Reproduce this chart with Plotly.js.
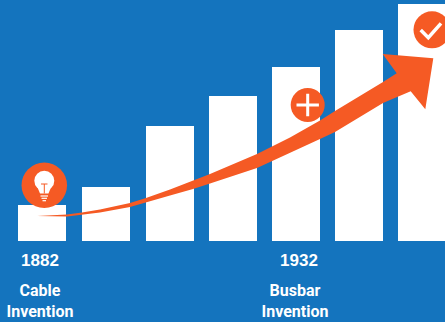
<!DOCTYPE html>
<html>
<head>
<meta charset="utf-8">
<script src="https://cdn.plot.ly/plotly-3.0.1.min.js"></script>
<style>html,body{margin:0;padding:0;background:#1474be;overflow:hidden}</style>
</head>
<body>
<div id="chart" style="width:445px;height:322px"></div>
<script>
// Column positions and heights above the baseline
const barCenters = [42, 106, 170, 233, 296, 359, 422];
const barHeights = [36, 54, 115, 145, 174, 211, 237];

// Milestone labels
const yearX = [40, 299];
const yearY = [-21, -21];
const yearText = ['1882', '1932'];
const noteX = [40, 295, 40, 295];
const noteY = [-51, -51, -72, -72];
const noteText = ['Cable', 'Busbar', 'Invention', 'Invention'];

// Growth arrow outline: upper edge, head, lower edge
const arrowX = [37, 67, 82, 100, 130, 146, 170, 193, 210, 257, 273, 290, 320, 335, 383, 396.7,
                382.7, 433.3, 425.3, 410.7,
                383, 335, 320, 290, 273, 257, 210, 193, 170, 150, 130, 100, 82, 67, 37];
const arrowY = [25, 26.5, 28.5, 31.5, 38, 43, 51.5, 60, 67, 87, 95, 103.5, 120.5, 130, 159, 167.7,
                187, 182.7, 131.7, 149.7,
                138, 109, 102, 88, 80, 73, 57.5, 52, 45.5, 39.5, 34, 28.5, 26, 24.5, 25];

// Badges on the columns
const badgeX = [44.3, 307.7, 432];
const badgeY = [55.7, 136, 211.2];
const badgeSize = [45.5, 34, 37];

// Plus sign
const plusX = [307.7];
const plusY = [136];

// Check mark
const checkX = [420.7, 428.3, 441];
const checkY = [211, 203.3, 217.7];

// Light bulb
const bulbX = [44.3];
const bulbY = [60.3];
const neckX = [36.5, 52, 48.5, 40, 36.5];
const neckY = [56, 56, 47.5, 47.5, 56];
const filamentX = [41, 47.5, null, 44.3, 44.3];
const filamentY = [57, 57, null, 57, 47.5];
const screwX = [40.5, 48, null, 41.5, 47, null, 42.5, 46];
const screwY = [45, 45, null, 42.7, 42.7, null, 40.3, 40.3];

const white = '#ffffff';
const orange = '#f55a24';
const blue = '#1474be';

const traces = [
  {type: 'bar', x: barCenters, y: barHeights, width: 48, marker: {color: white, line: {width: 0}}, hoverinfo: 'skip'},
  {type: 'scatter', mode: 'markers', x: badgeX, y: badgeY, marker: {size: badgeSize, color: orange, opacity: 1, line: {width: 0}}, hoverinfo: 'skip'},
  {type: 'scatter', mode: 'lines', x: arrowX, y: arrowY, fill: 'toself', fillcolor: orange, line: {width: 0, color: orange}, hoverinfo: 'skip'},
  {type: 'scatter', mode: 'markers', x: plusX, y: plusY, marker: {symbol: 'cross-thin', size: 16, opacity: 1, line: {width: 3, color: white}}, hoverinfo: 'skip'},
  {type: 'scatter', mode: 'lines', x: checkX, y: checkY, line: {width: 3.5, color: white}, hoverinfo: 'skip'},
  {type: 'scatter', mode: 'markers', x: bulbX, y: bulbY, marker: {size: 20, color: white, opacity: 1, line: {width: 0}}, hoverinfo: 'skip'},
  {type: 'scatter', mode: 'lines', x: neckX, y: neckY, fill: 'toself', fillcolor: white, line: {width: 0, color: white}, hoverinfo: 'skip'},
  {type: 'scatter', mode: 'lines', x: filamentX, y: filamentY, line: {width: 1, color: orange}, hoverinfo: 'skip'},
  {type: 'scatter', mode: 'lines', x: screwX, y: screwY, line: {width: 1.2, color: white}, hoverinfo: 'skip'},
  {type: 'scatter', mode: 'text', x: yearX, y: yearY, text: yearText, textposition: 'middle center',
   textfont: {family: 'Liberation Sans', size: 17, color: white, weight: 'bold'}, hoverinfo: 'skip'},
  {type: 'scatter', mode: 'text', x: noteX, y: noteY, text: noteText, textposition: 'middle center',
   textfont: {family: 'Roboto', size: 16, color: white, weight: 'bold'}, hoverinfo: 'skip'}
];

const layout = {
  width: 445, height: 322,
  margin: {l: 0, r: 0, t: 0, b: 0},
  paper_bgcolor: blue, plot_bgcolor: blue,
  showlegend: false,
  bargap: 0,
  xaxis: {range: [0, 445], visible: false, fixedrange: true},
  yaxis: {range: [-81, 241], visible: false, fixedrange: true}
};

Plotly.newPlot('chart', traces, layout, {displayModeBar: false, staticPlot: true});
</script>
</body>
</html>
